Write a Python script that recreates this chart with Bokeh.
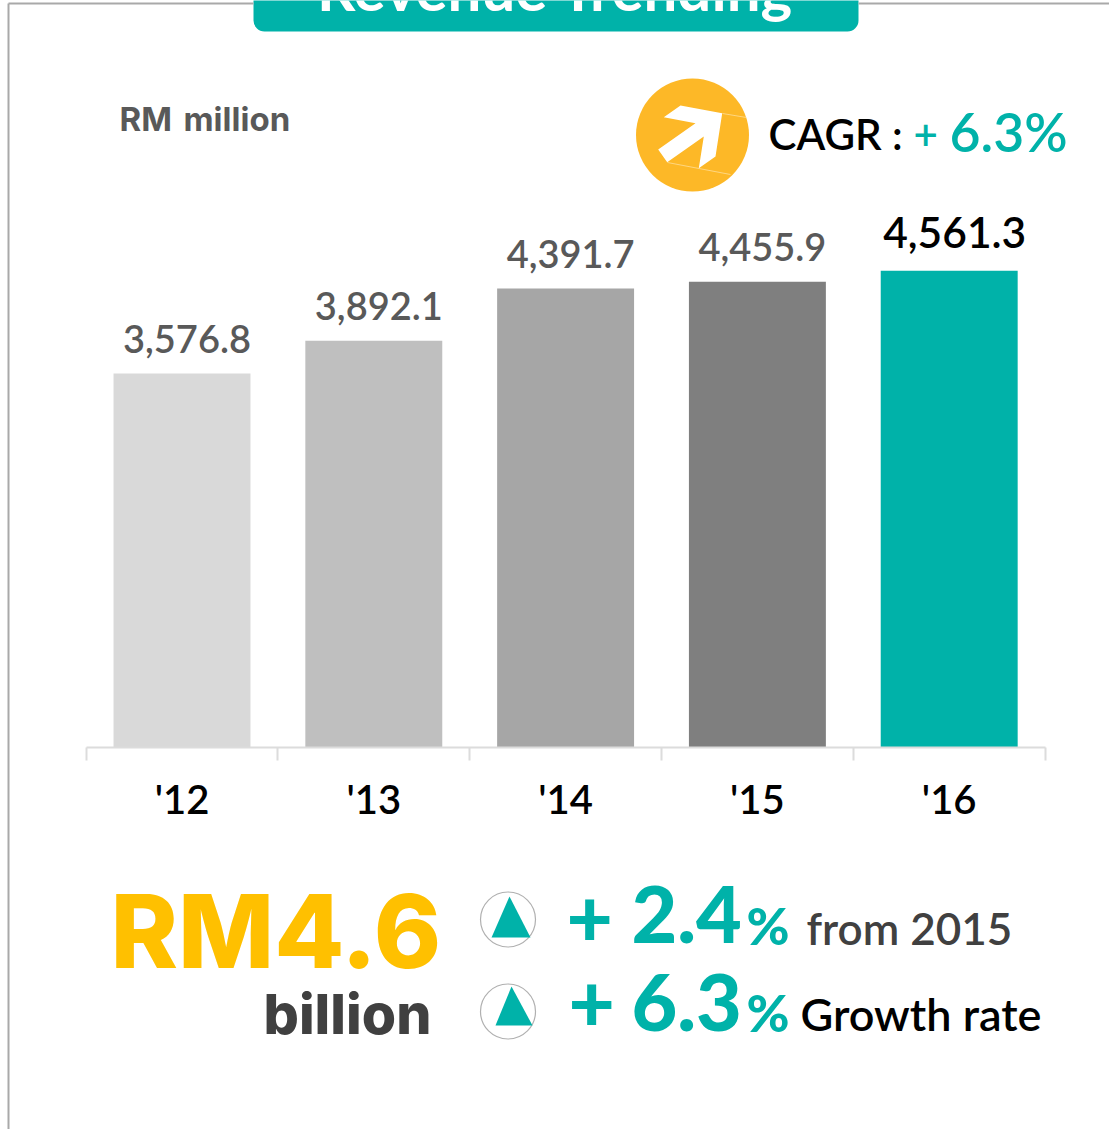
from bokeh.plotting import figure
from bokeh.embed import file_html
from bokeh.resources import INLINE
from bokeh.core.properties import value
from bokeh.models import Range1d, LinearAxis, FixedTicker, BoxAnnotation

# ---- data ----
years = ["'12", "'13", "'14", "'15", "'16"]
revenue = [3576.8, 3892.1, 4391.7, 4455.9, 4561.3]
bar_colors = ["#d9d9d9", "#bfbfbf", "#a6a6a6", "#7f7f7f", "#00b2a9"]
label_colors = ["#595959", "#595959", "#595959", "#595959", "#000000"]

TEAL = "#00b2a9"
W, H = 1109, 1129
X0, CAT_W = 85.6, 191.8          # pixel of first category edge, category width
Y0, PX_PER = 747.0, 476.8 / 4561.3
BASE = 0.39                      # renderer's baseline shift, in em
SEMI = "Lato Semibold"

centers = [i + 0.5 for i in range(len(years))]

p = figure(width=W, height=H, output_backend="svg", toolbar_location=None,
           x_range=Range1d(-X0 / CAT_W, (W - X0) / CAT_W),
           y_range=Range1d(-(H - Y0) / PX_PER, Y0 / PX_PER),
           min_border=0, min_border_left=0, min_border_right=0,
           min_border_top=0, min_border_bottom=0,
           x_axis_location=None, y_axis_location=None, outline_line_color=None)
p.styles = {"position": "absolute", "left": "0px", "top": "0px"}
p.grid.visible = False
p.extra_x_ranges["px"] = Range1d(0, W)
p.extra_y_ranges["px"] = Range1d(H, 0)


def t(x, y, s, size, color, bold=False, font="Lato", align="left"):
    p.text([x], [y - BASE * size], text=[s], text_font=value(font), text_font_size=f"{size}px",
           text_color=color, text_font_style="bold" if bold else "normal",
           text_align=align, text_baseline="alphabetic",
           x_range_name="px", y_range_name="px")


# frame and title tab
p.line([8, 8], [3, H], line_color="#a9a9a9", line_width=2, x_range_name="px", y_range_name="px")
p.line([8, 253], [3, 3], line_color="#a9a9a9", line_width=2, x_range_name="px", y_range_name="px")
p.line([858, W], [3, 3], line_color="#a9a9a9", line_width=2, x_range_name="px", y_range_name="px")
p.add_layout(BoxAnnotation(left=253, right=858, top=-20, bottom=31, x_range_name="px", y_range_name="px",
                           fill_color=TEAL, fill_alpha=1, line_color=None, border_radius=11, level="underlay"))
t(555, 11, "Revenue Trending", 60, "#ffffff", True, align="center")

# bars
p.vbar(x=centers, top=revenue, width=0.714, bottom=0, color=bar_colors, line_color=None)
for c, v, col, i in zip(centers, revenue, label_colors, range(5)):
    last = i == 4
    size = 42.5 if last else 38
    p.text([c], [v], text=[f"{v:,.1f}"], text_font=value(SEMI),
           text_font_size=f"{size}px", text_color=col,
           text_align="center", text_baseline="alphabetic",
           x_offset=5.5 if last else 5, y_offset=(-22 if last else -20) - BASE * size)

# axis: labels on category centres, tick marks on category edges
axis = LinearAxis(fixed_location=0,
                  ticker=FixedTicker(ticks=centers, minor_ticks=list(range(len(years) + 1))),
                  bounds=(0, len(years)),
                  major_label_overrides=dict(zip(centers, years)),
                  major_label_text_font=SEMI, major_label_text_font_size="40px",
                  major_label_text_color="#000000", major_label_standoff=14,
                  axis_line_color="#dcdcdc", axis_line_width=2,
                  major_tick_line_color=None,
                  minor_tick_line_color="#dcdcdc", minor_tick_line_width=2,
                  minor_tick_in=0, minor_tick_out=13)
p.add_layout(axis, "below")

# top texts
t(119, 131, "RM", 33, "#595959", True, font="Inter")
t(183, 131, "million", 33, "#595959", True, font="Inter")
p.scatter([692], [134.5], size=113, color="#fdb827", line_color=None, x_range_name="px", y_range_name="px")
p.patch([680, 721.7, 715, 698.3, 703.3, 666.7, 657.7, 695, 663.3],
        [105, 112.7, 156, 167.7, 136, 161.7, 149, 122.7, 116.7],
        color="#ffffff", line_color=None, x_range_name="px", y_range_name="px")
p.line([722, 746], [113, 117], line_color="#ffe3a6", line_width=0.7, x_range_name="px", y_range_name="px")
p.line([667, 730], [162, 174], line_color="#ffe3a6", line_width=0.7, x_range_name="px", y_range_name="px")
t(768, 150, "CAGR :", 42, "#000000", font=SEMI)
t(913, 150, "+", 42, TEAL, font=SEMI)
t(949, 151, "6.3%", 53.5, TEAL, font=SEMI)

# bottom block
t(110, 970, "RM4.6", 102, "#ffc000", font="Inter ExtraBold")
t(263, 1034.5, "billion", 55.5, "#404040", font="Inter ExtraBold")
for cy, ax, bx0, bx1, ytop, ybot in [(919, 509, 491, 530, 896, 937), (1011, 511, 495, 532, 986, 1025)]:
    p.scatter([507.5], [cy], size=55, fill_color="#ffffff", line_color="#b0b0b0", line_width=1.2,
              x_range_name="px", y_range_name="px")
    p.patch([ax, bx1, bx0], [ytop, ybot, ybot], color=TEAL, line_color=None,
            x_range_name="px", y_range_name="px")
t(566, 949, "+", 80, TEAL, font="Lato Black")
t(631, 945, "2.4", 79, TEAL, font="Lato Black")
t(746, 945, "%", 52, TEAL, font="Lato Black")
t(806, 945, "from 2015", 44, "#404040", font=SEMI)
t(568, 1034, "+", 80, TEAL, font="Lato Black")
t(631, 1033, "6.3", 79, TEAL, font="Lato Black")
t(746, 1032, "%", 52, TEAL, font="Lato Black")
t(800, 1031, "Growth rate", 45, "#000000", font=SEMI)

open("out.html", "w").write(file_html(p, INLINE))
